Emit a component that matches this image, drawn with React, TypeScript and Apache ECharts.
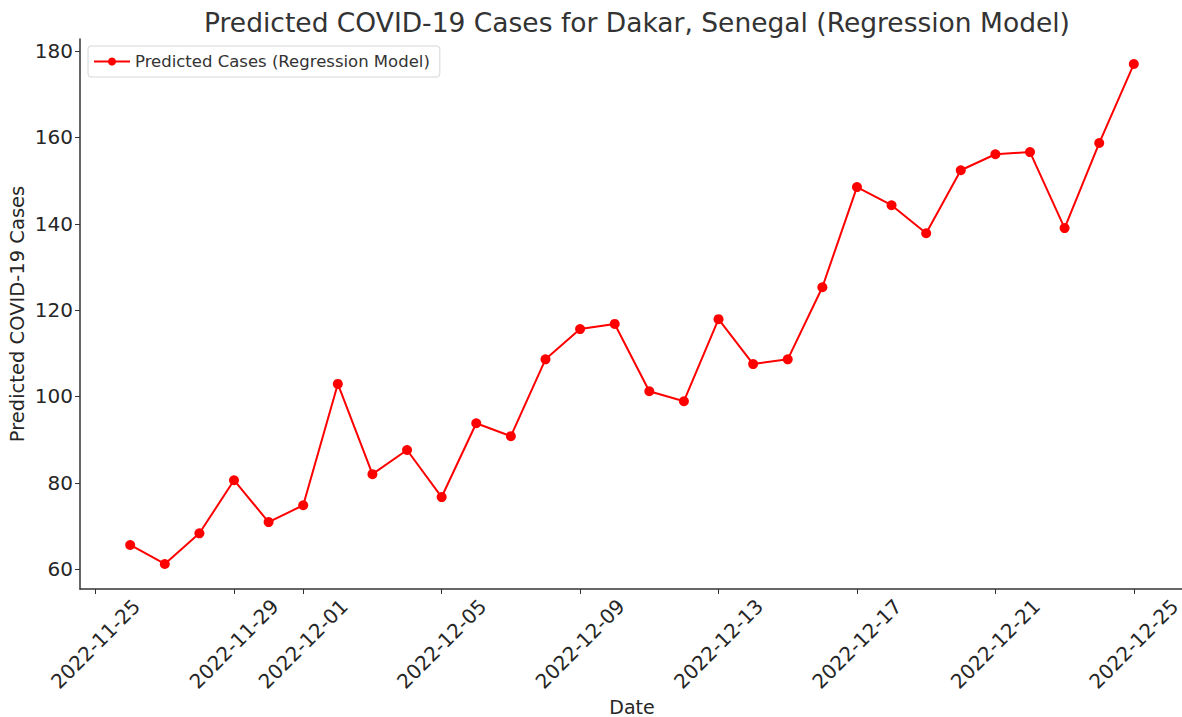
import React, { useEffect, useRef } from "react";
import * as echarts from "echarts";

const dates = [
  "2022-11-26", "2022-11-27", "2022-11-28", "2022-11-29", "2022-11-30",
  "2022-12-01", "2022-12-02", "2022-12-03", "2022-12-04", "2022-12-05",
  "2022-12-06", "2022-12-07", "2022-12-08", "2022-12-09", "2022-12-10",
  "2022-12-11", "2022-12-12", "2022-12-13", "2022-12-14", "2022-12-15",
  "2022-12-16", "2022-12-17", "2022-12-18", "2022-12-19", "2022-12-20",
  "2022-12-21", "2022-12-22", "2022-12-23", "2022-12-24", "2022-12-25",
];
const predicted = [
  65.6, 61.2, 68.3, 80.6, 70.9, 74.8, 102.9, 82.0, 87.6, 76.7,
  93.8, 90.8, 108.6, 115.6, 116.8, 101.2, 98.9, 117.9, 107.5, 108.6,
  125.3, 148.5, 144.3, 137.8, 152.4, 156.1, 156.6, 139.0, 158.7, 177.0,
];
const xTickDates = [
  "2022-11-25", "2022-11-29", "2022-12-01", "2022-12-05", "2022-12-09",
  "2022-12-13", "2022-12-17", "2022-12-21", "2022-12-25",
];
const yTicks = [60, 80, 100, 120, 140, 160, 180];

const DAY = 86400000;
const base = Date.UTC(2022, 10, 25);
const toDay = (s: string) => {
  const [y, m, d] = s.split("-").map(Number);
  return Math.round((Date.UTC(y, m - 1, d) - base) / DAY);
};
const fromDay = (n: number) => {
  const dt = new Date(base + Math.round(n) * DAY);
  const mm = String(dt.getUTCMonth() + 1).padStart(2, "0");
  const dd = String(dt.getUTCDate()).padStart(2, "0");
  return `${dt.getUTCFullYear()}-${mm}-${dd}`;
};

const FONT = "DejaVu Sans";
const TXT = "#262626";

export default function App() {
  const ref = useRef<HTMLDivElement>(null);
  useEffect(() => {
    if (!ref.current) return;
    const chart = echarts.init(ref.current, undefined, { renderer: "svg" });
    const xTicks = xTickDates.map(toDay);
    chart.setOption({
      animation: false,
      textStyle: { fontFamily: FONT },
      title: {
        text: "Predicted COVID-19 Cases for Dakar, Senegal (Regression Model)",
        left: 632,
        textAlign: "center",
        top: 4,
        textStyle: { fontFamily: FONT, fontSize: 26.5, fontWeight: "normal", color: "#333" },
      },
      legend: {
        left: 88,
        top: 46,
        padding: [7, 10, 7, 5],
        itemWidth: 36,
        itemHeight: 10,
        itemGap: 10,
        borderColor: "#d6d6d6",
        borderWidth: 1,
        borderRadius: 3,
        textStyle: { fontFamily: FONT, fontSize: 16.5, color: "#333" },
        data: ["Predicted Cases (Regression Model)"],
      },
      grid: { left: 80, right: -2, top: 39, bottom: 128, containLabel: false, outerBoundsMode: "none" },
      xAxis: {
        type: "value",
        min: -0.45,
        max: 31.45,
        name: "Date",
        nameLocation: "middle",
        nameGap: 108,
        nameMoveOverlap: false,
        nameTextStyle: { fontFamily: FONT, fontSize: 19, color: TXT },
        splitLine: { show: false },
        axisLine: { show: true, onZero: false, lineStyle: { color: "#333", width: 1.5 } },
        axisTick: { show: true, length: 5, customValues: xTicks, lineStyle: { color: "#333" } },
        axisLabel: {
          customValues: xTicks,
          rotate: 45,
          align: "center",
          verticalAlign: "middle",
          margin: 55,
          fontSize: 20,
          color: TXT,
          fontFamily: FONT,
          formatter: (v: number) => fromDay(v),
        },
      },
      yAxis: {
        type: "value",
        min: 55.4,
        max: 182.8,
        name: "Predicted COVID-19 Cases",
        nameLocation: "middle",
        nameGap: 53,
        nameMoveOverlap: false,
        nameTextStyle: { fontFamily: FONT, fontSize: 19.5, color: TXT },
        splitLine: { show: false },
        axisLine: { show: true, onZero: false, lineStyle: { color: "#333", width: 1.5 } },
        axisTick: { show: true, length: 5, customValues: yTicks, lineStyle: { color: "#333" } },
        axisLabel: {
          customValues: yTicks,
          margin: 7,
          fontSize: 20,
          color: TXT,
          fontFamily: FONT,
        },
      },
      series: [
        {
          name: "Predicted Cases (Regression Model)",
          type: "line",
          data: dates.map((d, i) => [toDay(d), predicted[i]]),
          symbol: "circle",
          symbolSize: 10,
          color: "#ff0000",
          lineStyle: { color: "#ff0000", width: 2 },
          itemStyle: { color: "#ff0000" },
        },
      ],
    });
    return () => chart.dispose();
  }, []);
  return <div ref={ref} style={{ width: 1182, height: 717, position: "absolute", left: 0, top: 0 }} />;
}
